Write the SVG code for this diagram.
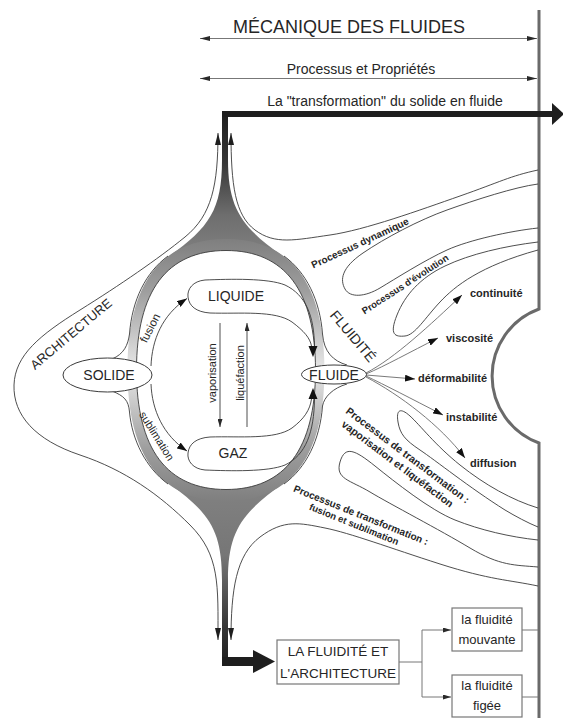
<svg xmlns="http://www.w3.org/2000/svg" width="563" height="718" viewBox="0 0 563 718">
<defs>
  <linearGradient id="gBand" gradientUnits="userSpaceOnUse" x1="0" y1="239" x2="0" y2="501">
    <stop offset="0" stop-color="#7f7f7f"/>
    <stop offset="0.2" stop-color="#9e9e9e"/>
    <stop offset="0.4" stop-color="#cfcfcf"/>
    <stop offset="0.5" stop-color="#e8e8e8"/>
    <stop offset="0.6" stop-color="#cfcfcf"/>
    <stop offset="0.8" stop-color="#9e9e9e"/>
    <stop offset="1" stop-color="#7f7f7f"/>
  </linearGradient>
  <linearGradient id="gTop" gradientUnits="userSpaceOnUse" x1="0" y1="111" x2="0" y2="260">
    <stop offset="0" stop-color="#1e1e1e"/>
    <stop offset="0.35" stop-color="#383838"/>
    <stop offset="0.7" stop-color="#6e6e6e"/>
    <stop offset="1" stop-color="#828282"/>
  </linearGradient>
  <linearGradient id="gBot" gradientUnits="userSpaceOnUse" x1="0" y1="482" x2="0" y2="666">
    <stop offset="0" stop-color="#828282"/>
    <stop offset="0.4" stop-color="#767676"/>
    <stop offset="0.8" stop-color="#333333"/>
    <stop offset="1" stop-color="#1e1e1e"/>
  </linearGradient>
  <marker id="ah" viewBox="0 0 12 6" refX="12" refY="3" markerWidth="12" markerHeight="6" markerUnits="userSpaceOnUse" orient="auto-start-reverse">
    <path d="M0,0 L12,3 L0,6 Z" fill="#1e1e1e"/>
  </marker>
  <marker id="as" viewBox="0 0 10 5" refX="10" refY="2.5" markerWidth="10" markerHeight="5" markerUnits="userSpaceOnUse" orient="auto-start-reverse">
    <path d="M0,0 L10,2.5 L0,5 Z" fill="#2a2a2a"/>
  </marker>
  <marker id="av" viewBox="0 0 8 5" refX="8" refY="2.5" markerWidth="8" markerHeight="5" markerUnits="userSpaceOnUse" orient="auto">
    <path d="M0,0 L8,2.5 L0,5 Z" fill="#2a2a2a"/>
  </marker>
  <marker id="af" viewBox="0 0 10 7" refX="10" refY="3.5" markerWidth="10" markerHeight="7" markerUnits="userSpaceOnUse" orient="auto">
    <path d="M0,0 L10,3.5 L0,7 Z" fill="#111111"/>
  </marker>
</defs>
<style>
  .t{font-family:"Liberation Sans",Arial,sans-serif;fill:#262626}
  .b{font-weight:bold}
  .ln{fill:none;stroke:#3a3a3a;stroke-width:0.9}
  .lg{fill:none;stroke:#777777;stroke-width:1}
  .fan{fill:none;stroke:#6a6a6a;stroke-width:0.9}
  .nd{fill:#ffffff;stroke:#3a3a3a;stroke-width:1}
  .bx{fill:#ffffff;stroke:#777777;stroke-width:1.2}
  .wall{fill:none;stroke:#6a6a6a;stroke-width:3}
</style>
<rect width="563" height="718" fill="#ffffff"/>

<g id="header">
  <text class="t" x="349" y="33" font-size="18" text-anchor="middle">MÉCANIQUE DES FLUIDES</text>
  <path class="lg" d="M200,38.5 L537,38.5" marker-start="url(#as)" marker-end="url(#as)"/>
  <text class="t" x="361" y="74" font-size="14" text-anchor="middle">Processus et Propriétés</text>
  <path class="lg" d="M200,78.5 L537,78.5" marker-start="url(#as)" marker-end="url(#as)"/>
  <text class="t" x="385" y="106" font-size="14" text-anchor="middle">La "transformation" du solide en fluide</text>
</g>

<g id="wall">
  <path class="wall" d="M539,10 L539,309 A71.3,71.3 0 0 0 539,443 L539,718"/>
</g>

<g id="ring">
  <path d="M222,111 L228,111 L228,160 C228,210 243,228 284,257 L226,245 L168,257 C209,228 222,210 222,160 Z" fill="url(#gTop)"/>
  <path d="M168,483 C209,512 222,530 222,580 L222,666 L228,666 L228,580 C228,530 243,512 284,483 L226,495 Z" fill="url(#gBot)"/>
  <path fill="url(#gBand)" fill-rule="evenodd" d="M226,239 C291,239 324.5,283.5 324.5,370 C324.5,456.5 291,501 226,501 C161,501 127.5,456.5 127.5,370 C127.5,283.5 161,239 226,239 Z M226,250.5 C285.1,250.5 315.5,291.1 315.5,370 C315.5,448.9 285.1,489.5 226,489.5 C166.9,489.5 136.5,448.9 136.5,370 C136.5,291.1 166.9,250.5 226,250.5 Z"/>
  <path class="ln" d="M226,250.5 C285.1,250.5 315.5,291.1 315.5,370 C315.5,448.9 285.1,489.5 226,489.5 C166.9,489.5 136.5,448.9 136.5,370 C136.5,291.1 166.9,250.5 226,250.5 Z"/>
  <path class="ln" d="M284,256 C306,272 320,300 322.5,334 C324,352 333,361 347,365"/>
  <path class="ln" d="M347,384 C333,388 324,397 322.5,406 C320,440 306,468 284,484"/>
  <path class="ln" d="M168,256 C146,272 132,300 129.5,334 C128,345 124,354 112,359"/>
  <path class="ln" d="M112,391 C124,396 128.5,400 129.5,412 C132,440 146,468 168,484"/>
  <rect x="222" y="111" width="331" height="6" fill="#1e1e1e"/>
  <polygon points="552,103 564,114 552,125" fill="#1e1e1e"/>
  <rect x="222" y="657" width="33" height="9" fill="#1e1e1e"/>
  <polygon points="253,650 275,661.5 253,673" fill="#1e1e1e"/>
</g>

<g id="connectors">
  <path class="ln" d="M218,133 C218,185 212,215 185,237 S120,285 80,310 S15,355 14,385 S35,440 80,455 S160,495 190,525 S218,585 218,640" marker-start="url(#ah)" marker-end="url(#ah)"/>
  <path class="ln" d="M231,133 C231,185 235,215 255,230 S295,240 330,235 S420,210 460,196 S510,176 538,170" marker-start="url(#ah)"/>
  <path class="ln" d="M231,640 C231,590 236,555 260,537 S300,523 325,528 S390,548 440,564 S510,580 538,586" marker-start="url(#ah)"/>
  <path class="ln" d="M538,184 C515,187 475,200 447,210 S385,238 363,253 S340,280 345,289 S365,297 380,288 S425,260 447,250 S510,231 538,228"/>
  <path class="ln" d="M538,242 C505,246 470,254 445,266 S405,295 397,315 S395,337 405,336 S425,318 440,302 S480,266 538,250"/>
  <path class="ln" d="M538,508 C512,500 485,485 460,465 S420,425 410,416 S396,410 398,422 S405,440 420,450 S470,488 505,510 C515,516 528,523 538,527"/>
  <path class="ln" d="M538,540 C510,537 480,530 455,520 S395,482 375,466 S345,445 340,462 S350,480 370,492 S440,530 470,548 S515,565 538,567"/>
  <path class="ln" d="M151,366 C152,340 162,315 187,298.5" marker-end="url(#af)"/>
  <path class="ln" d="M151,384 C152,410 163,435 187,451" marker-end="url(#af)"/>
  <path class="ln" d="M220,323 L220,427" marker-end="url(#av)"/>
  <path class="ln" d="M247,427 L247,323" marker-end="url(#av)"/>
  <path class="fan" d="M366,373 C395,358 430,325 462,295" marker-end="url(#af)"/>
  <path class="fan" d="M366,374 C385,366 410,352 438,338" marker-end="url(#af)"/>
  <path class="fan" d="M366,375 L415,379" marker-end="url(#af)"/>
  <path class="fan" d="M366,376 C385,385 410,398 443,415" marker-end="url(#af)"/>
  <path class="fan" d="M366,377 C400,395 440,425 465,458" marker-end="url(#af)"/>
  <path class="lg" d="M399,662 L422,662 M422,630 L422,697"/>
  <path class="lg" d="M422,630 L451,630" marker-end="url(#av)"/>
  <path class="lg" d="M422,697 L451,697" marker-end="url(#av)"/>
  <path class="lg" d="M522,630 L538,630 M522,697 L538,697"/>
</g>

<g id="node-solide">
  <ellipse class="nd" cx="107.5" cy="375" rx="44.5" ry="17"/>
  <text class="t" x="109" y="380" font-size="14" text-anchor="middle">SOLIDE</text>
</g>
<g id="node-liquide">
  <path class="ln" fill="#ffffff" d="M314.5,346 C314,316 306,295 285,285 C268,278 230,279 205,280 C193,281 187,289 188,297 C189,306 196,312 210,313 C240,314 275,310 292,322 C304,331 310,338 311.5,346"/>
  <polygon points="308.5,346 317.5,346 313,357" fill="#111111"/>
  <text class="t" x="236" y="301" font-size="14" text-anchor="middle">LIQUIDE</text>
</g>
<g id="node-gaz">
  <path class="ln" fill="#ffffff" d="M314.5,399 C314,432 306,455 285,465 C268,472 230,471 205,470 C193,469 187,461 188,453 C189,444 196,438 210,437 C240,436 275,440 292,428 C304,419 310,410 311.5,399"/>
  <polygon points="308.5,399 317.5,399 313,388" fill="#111111"/>
  <text class="t" x="233" y="458" font-size="14" text-anchor="middle">GAZ</text>
</g>
<g id="node-fluide">
  <ellipse class="nd" cx="334" cy="374.5" rx="32.5" ry="9.5"/>
  <text class="t" x="334" y="379.5" font-size="14" text-anchor="middle">FLUIDE</text>
</g>
<g id="node-fluidite-architecture">
  <rect class="bx" x="277" y="640" width="122" height="44"/>
  <text class="t" x="338" y="656" font-size="13.5" text-anchor="middle">LA FLUIDITÉ ET</text>
  <text class="t" x="338" y="678" font-size="13.5" text-anchor="middle">L'ARCHITECTURE</text>
</g>
<g id="node-fluidite-mouvante">
  <rect class="bx" x="452" y="608" width="70" height="43"/>
  <text class="t" x="487" y="624" font-size="13" text-anchor="middle">la fluidité</text>
  <text class="t" x="487" y="644" font-size="13" text-anchor="middle">mouvante</text>
</g>
<g id="node-fluidite-figee">
  <rect class="bx" x="452" y="675" width="70" height="42"/>
  <text class="t" x="487" y="690" font-size="13" text-anchor="middle">la fluidité</text>
  <text class="t" x="487" y="710" font-size="13" text-anchor="middle">figée</text>
</g>

<g id="labels">
  <text class="t" font-size="13" text-anchor="middle" dominant-baseline="central" transform="translate(71,334) rotate(-40)">ARCHITECTURE</text>
  <text class="t" font-size="14" text-anchor="middle" dominant-baseline="central" transform="translate(353,336) rotate(50)">FLUIDITÉ</text>
  <text class="t" font-size="11.5" text-anchor="middle" dominant-baseline="central" transform="translate(150,328) rotate(-63)">fusion</text>
  <text class="t" font-size="11" text-anchor="middle" dominant-baseline="central" transform="translate(157,436) rotate(58)">sublimation</text>
  <text class="t" font-size="11" text-anchor="middle" transform="translate(215.5,373) rotate(-90)">vaporisation</text>
  <text class="t" font-size="11" text-anchor="middle" transform="translate(244,373) rotate(-90)">liquéfaction</text>
  <text class="t b" font-size="10" text-anchor="middle" dominant-baseline="central" transform="translate(360,243) rotate(-25)">Processus dynamique</text>
  <text class="t b" font-size="9.5" text-anchor="middle" dominant-baseline="central" transform="translate(405,284) rotate(-33)">Processus d'évolution</text>
  <g transform="translate(408,455) rotate(37)">
    <text class="t b" font-size="10.5" text-anchor="middle" dominant-baseline="central" x="0" y="0">Processus de transformation :</text>
    <text class="t b" font-size="10.5" text-anchor="middle" dominant-baseline="central" x="-3" y="13">vaporisation et liquéfaction</text>
  </g>
  <g transform="translate(361,515) rotate(22)">
    <text class="t b" font-size="10" text-anchor="middle" dominant-baseline="central" x="0" y="0">Processus de transformation :</text>
    <text class="t b" font-size="9.5" text-anchor="middle" dominant-baseline="central" x="-3" y="11">fusion et sublimation</text>
  </g>
  <text class="t b" font-size="11" x="470" y="297">continuité</text>
  <text class="t b" font-size="11" x="446" y="342">viscosité</text>
  <text class="t b" font-size="11" x="418" y="382">déformabilité</text>
  <text class="t b" font-size="11" x="446" y="421">instabilité</text>
  <text class="t b" font-size="11" x="470" y="467">diffusion</text>
</g>
</svg>
